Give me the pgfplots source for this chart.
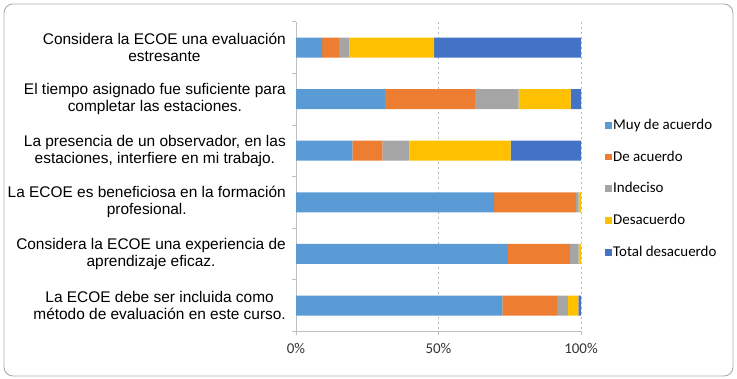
\documentclass[border=0pt]{standalone}
\usepackage{pgfplots}
\pgfplotsset{compat=1.18}
\usepackage{fontspec}
\setmainfont{Liberation Sans}
\newfontfamily\calibri{Carlito}
\definecolor{cMuy}{HTML}{5B9BD5}
\definecolor{cDe}{HTML}{ED7D31}
\definecolor{cInd}{HTML}{A5A5A5}
\definecolor{cDes}{HTML}{FFC000}
\definecolor{cTot}{HTML}{4472C4}
\definecolor{axgray}{HTML}{BFBFBF}
\pgfplotstableread{
cat muy de ind des tot
0 9.2 5.9 3.6 29.8 51.5
1 31.2 31.6 15.3 18.3 3.6
2 19.8 10.5 9.5 35.5 24.7
3 69.5 28.7 1.0 0.8 0.0
4 74.3 21.8 3.1 0.8 0.0
5 72.4 19.2 3.8 3.7 0.9
}\datatable
\begin{document}
\begin{tikzpicture}
\useasboundingbox (0,0) rectangle (737bp,379bp);
\draw[axgray!90!black, rounded corners=9bp, line width=0.9bp] (4bp,3bp) rectangle (733bp,375bp);
\begin{axis}[
  at={(296bp,47.7bp)}, anchor=south west,
  scale only axis, width=285bp, height=309.6bp,
  xbar stacked, bar width=20bp,
  y dir=reverse,
  xmin=0, xmax=100, ymin=-0.5, ymax=5.5,
  axis lines*=left,
  axis line style={axgray, line width=0.8bp},
  xtick={0,50,100}, xticklabels={0\%,50\%,100\%},
  xticklabel style={font=\calibri\fontsize{15}{18}\selectfont, text=black!80, yshift=-4bp},
  tick style={axgray, line width=0.8bp},
  major tick length=4bp,
  tick align=outside,
  xmajorgrids,
  major x grid style={gray!55, dash pattern=on 2.5bp off 2.5bp, line width=0.6bp},
  ytick={-0.5,0.5,1.5,2.5,3.5,4.5,5.5},
  yticklabels={},
  extra y ticks={0,1,2,3,4,5},
  extra y tick labels={{Considera la ECOE una evaluación\\estresante},
    {El tiempo asignado fue suficiente para\\completar las estaciones.},
    {La presencia de un observador, en las\\estaciones, interfiere en mi trabajo.},
    {La ECOE es beneficiosa en la formación\\profesional.},
    {Considera la ECOE una experiencia de\\aprendizaje eficaz.},
    {La ECOE debe ser incluida como\\método de evaluación en este curso.}},
  extra y tick style={major tick length=0pt, tick style={draw=none}, grid=none,
    yticklabel style={align=center, font=\fontsize{15.5}{17}\selectfont, inner sep=0pt, xshift=-10bp}},
  legend style={at={(1.0842,0.692)}, anchor=north west, draw=none, fill=none,
    inner sep=0pt, row sep=15.8bp,
    font=\calibri\fontsize{15}{18}\selectfont,
    nodes={inner sep=1bp, text height=11bp, text depth=3bp}},
  legend cell align=left,
  legend image code/.code={\fill[#1] (0bp,-3.4bp) rectangle (7bp,3.4bp);},
]
\addplot[fill=cMuy, draw=none] table[x=muy, y=cat] {\datatable};
\addplot[fill=cDe, draw=none] table[x=de, y=cat] {\datatable};
\addplot[fill=cInd, draw=none] table[x=ind, y=cat] {\datatable};
\addplot[fill=cDes, draw=none] table[x=des, y=cat] {\datatable};
\addplot[fill=cTot, draw=none] table[x=tot, y=cat] {\datatable};
\legend{Muy de acuerdo, De acuerdo, Indeciso, Desacuerdo, Total desacuerdo}
\end{axis}
\end{tikzpicture}
\end{document}
